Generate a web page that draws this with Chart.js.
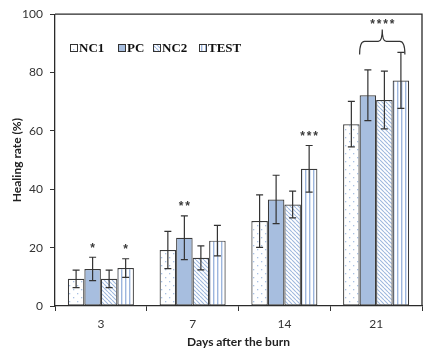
<!DOCTYPE html>
<html><head><meta charset="utf-8">
<script src="https://cdn.jsdelivr.net/npm/chart.js@4"></script>
<style>html,body{margin:0;padding:0;background:#fff}#wrap{width:437px;height:357px}</style>
</head><body><div id="wrap"><canvas id="c" width="437" height="357"></canvas></div>
<script>
const categories = ['3', '7', '14', '21'];
const seriesNames = ['NC1', 'PC', 'NC2', 'TEST'];
const nc1 = [9.3, 19.2, 29.1, 62.3];
const pc = [12.7, 23.4, 36.5, 72.2];
const nc2 = [9.3, 16.5, 34.8, 70.6];
const test = [13.0, 22.4, 47.0, 77.3];
const nc1Err = [3.0, 6.4, 9.0, 7.8];
const pcErr = [4.0, 7.5, 8.3, 8.7];
const nc2Err = [3.0, 4.1, 4.6, 9.9];
const testErr = [3.2, 5.2, 8.0, 9.6];
const stars = [['', '*', '', '*'], ['', '**', '', ''], ['', '', '', '***'], ['', '', '', '']];
const bracketStars = ['', '', '', '****'];
const yTicks = [0, 20, 40, 60, 80, 100];

function mkPattern(kind) {
  const s = kind === 'dots' ? 8 : 4;
  const c = document.createElement('canvas');
  c.width = s; c.height = s;
  const g = c.getContext('2d');
  g.fillStyle = '#ffffff'; g.fillRect(0, 0, s, s);
  if (kind === 'dots') {
    g.fillStyle = '#a9c1e3';
    g.fillRect(1, 1, 1.3, 1.3);
    g.fillRect(5, 5, 1.3, 1.3);
  } else if (kind === 'diag') {
    g.strokeStyle = '#9fb8de'; g.lineWidth = 1.1;
    g.beginPath();
    for (let k = -s; k <= 2 * s; k += s) { g.moveTo(k, 0); g.lineTo(k + s, s); }
    g.stroke();
  } else if (kind === 'vert') {
    g.fillStyle = '#9db6de';
    g.fillRect(1, 0, 1.4, s);
  }
  return g.createPattern(c, 'repeat');
}
const fills = [mkPattern('dots'), '#a7bedf', mkPattern('diag'), mkPattern('vert')];
const values = [nc1, pc, nc2, test];
const errs = [nc1Err, pcErr, nc2Err, testErr];

const datasets = seriesNames.map((n, i) => ({
  label: n, data: values[i], backgroundColor: fills[i],
  borderColor: '#3a3a3a', borderWidth: 1.2, borderSkipped: false,
  categoryPercentage: 0.72, barPercentage: 1.0
}));

const overlay = {
  id: 'overlay',
  afterDatasetsDraw(chart) {
    const ctx = chart.ctx, y = chart.scales.y, a = chart.chartArea;
    ctx.save();
    ctx.strokeStyle = '#2a2a2a'; ctx.lineWidth = 1.3;
    ctx.beginPath();
    ctx.moveTo(a.left, a.top); ctx.lineTo(a.right, a.top); ctx.lineTo(a.right, a.bottom);
    ctx.stroke();
    ctx.strokeStyle = '#333'; ctx.lineWidth = 1.2;
    values.forEach((arr, di) => {
      const meta = chart.getDatasetMeta(di);
      arr.forEach((v, i) => {
        const x = meta.data[i].x;
        const t = y.getPixelForValue(v + errs[di][i]);
        const b = y.getPixelForValue(v - errs[di][i]);
        ctx.beginPath();
        ctx.moveTo(x, t); ctx.lineTo(x, b);
        ctx.moveTo(x - 3.5, t); ctx.lineTo(x + 3.5, t);
        ctx.moveTo(x - 3.5, b); ctx.lineTo(x + 3.5, b);
        ctx.stroke();
      });
    });
    ctx.fillStyle = '#3a3a3a';
    ctx.font = 'bold 12px "Liberation Sans"';
    ctx.textAlign = 'center'; ctx.textBaseline = 'middle';
    const drawStars = (str, x, yy) => {
      const n = str.length, sp = 6.5;
      for (let k = 0; k < n; k++) ctx.fillText('*', x + (k - (n - 1) / 2) * sp, yy);
    };
    stars.forEach((row, i) => row.forEach((s, di) => {
      if (!s) return;
      const meta = chart.getDatasetMeta(di);
      const top = y.getPixelForValue(values[di][i] + errs[di][i]);
      drawStars(s, meta.data[i].x, top - 9);
    }));
    bracketStars.forEach((s, i) => {
      if (!s) return;
      const x0 = (chart.getDatasetMeta(0).data[i].x + chart.getDatasetMeta(1).data[i].x) / 2;
      const x1 = chart.getDatasetMeta(3).data[i].x + 4;
      let maxTop = 0;
      values.forEach((arr, di) => { maxTop = Math.max(maxTop, arr[i] + errs[di][i]); });
      const yb = y.getPixelForValue(maxTop) + 2;
      const yh = yb - 13, yp = yb - 25;
      const xm = (x0 + x1) / 2;
      ctx.strokeStyle = '#333'; ctx.lineWidth = 1.2;
      ctx.beginPath();
      ctx.moveTo(x0, yb);
      ctx.quadraticCurveTo(x0, yh, x0 + 5, yh);
      ctx.lineTo(xm - 4, yh);
      ctx.quadraticCurveTo(xm, yh, xm, yp);
      ctx.quadraticCurveTo(xm, yh, xm + 4, yh);
      ctx.lineTo(x1 - 5, yh);
      ctx.quadraticCurveTo(x1, yh, x1, yb);
      ctx.stroke();
      drawStars(s, xm, yp - 5);
    });
    const lx = [70, 118, 153, 199];
    ctx.font = 'bold 13px "Liberation Serif"';
    ctx.textAlign = 'left'; ctx.textBaseline = 'middle';
    seriesNames.forEach((n, i) => {
      ctx.fillStyle = fills[i];
      ctx.fillRect(lx[i], 44.5, 7, 7);
      ctx.strokeStyle = '#333'; ctx.lineWidth = 1;
      ctx.strokeRect(lx[i] + 0.5, 44.5, 7, 7);
      ctx.fillStyle = '#111';
      ctx.fillText(n, lx[i] + 9, 48.5);
    });
    ctx.restore();
  }
};

new Chart(document.getElementById('c'), {
  type: 'bar',
  data: { labels: categories, datasets },
  options: {
    responsive: false, animation: false,
    layout: { padding: { top: 13, right: 15, left: 10, bottom: 8 } },
    plugins: { legend: { display: false }, tooltip: { enabled: false } },
    scales: {
      x: {
        afterFit(s) { s.height = 43; },
        grid: { display: true, drawOnChartArea: false, tickLength: 5, color: '#333', offset: true },
        border: { color: '#2a2a2a', width: 1.3 },
        ticks: { color: '#333', padding: 6, font: { family: 'Lato', size: 12 } },
        title: { display: true, text: 'Days after the burn', color: '#222', padding: { top: 0, bottom: 0 }, font: { family: 'Lato', size: 12, weight: 'bold' } }
      },
      y: {
        min: 0, max: 100,
        afterFit(s) { s.width = 45; },
        afterBuildTicks(s) { s.ticks = yTicks.map(v => ({ value: v })); },
        grid: { display: true, drawOnChartArea: false, tickLength: 5, color: '#333' },
        border: { color: '#2a2a2a', width: 1.3 },
        ticks: { color: '#333', padding: 7, font: { family: 'Lato', size: 12 } },
        title: { display: true, text: 'Healing rate (%)', color: '#222', padding: { top: 0, bottom: 4 }, font: { family: 'Lato', size: 12, weight: 'bold' } }
      }
    }
  },
  plugins: [overlay]
});
</script></body></html>
